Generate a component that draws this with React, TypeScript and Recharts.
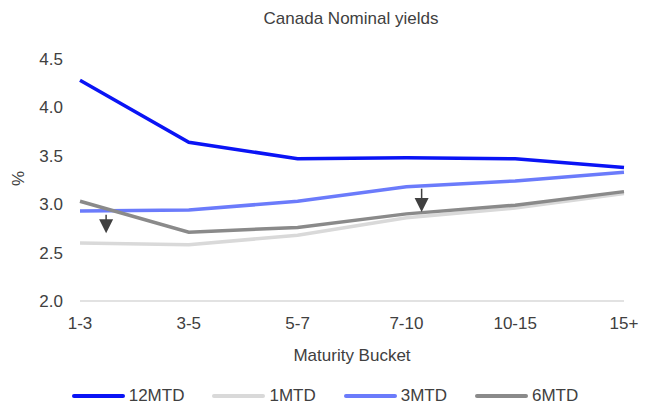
import React from "react";
import {
  LineChart,
  Line,
  XAxis,
  YAxis,
  Legend,
  ReferenceLine,
  ReferenceDot,
} from "recharts";

const buckets = ["1-3", "3-5", "5-7", "7-10", "10-15", "15+"];
const yTicks = [2.0, 2.5, 3.0, 3.5, 4.0, 4.5];

const mtd12 = [4.28, 3.64, 3.47, 3.48, 3.47, 3.38];
const mtd1 = [2.6, 2.58, 2.68, 2.86, 2.96, 3.11];
const mtd3 = [2.93, 2.94, 3.03, 3.18, 3.24, 3.33];
const mtd6 = [3.03, 2.71, 2.76, 2.9, 2.99, 3.13];

// annotation arrows: [x position, from, to]
const arrows = [
  [0.24, 2.89, 2.7],
  [3.14, 3.16, 2.92],
];

const series = [
  { key: "m12", name: "12MTD", color: "#0A14F5" },
  { key: "m1", name: "1MTD", color: "#D9D9D9" },
  { key: "m3", name: "3MTD", color: "#6B7BFB" },
  { key: "m6", name: "6MTD", color: "#8A8A8A" },
];

const data = buckets.map((b, i) => ({
  x: i,
  m12: mtd12[i],
  m1: mtd1[i],
  m3: mtd3[i],
  m6: mtd6[i],
}));

const font = "'Liberation Sans', Arial, sans-serif";
const textColor = "#404040";

const ArrowHead = (props: any) => {
  const { cx, cy } = props;
  return (
    <path
      d={`M${cx},${cy} L${cx - 7},${cy - 14} L${cx + 7},${cy - 14} Z`}
      fill="#404040"
    />
  );
};

const LegendContent = () => (
  <div
    style={{
      display: "flex",
      justifyContent: "center",
      gap: 28,
      paddingLeft: 14,
      fontFamily: font,
      fontSize: 17,
      color: textColor,
    }}
  >
    {series.map((s) => (
      <div key={s.key} style={{ display: "flex", alignItems: "center" }}>
        <span
          style={{
            display: "inline-block",
            width: 53,
            height: 4,
            borderRadius: 2,
            background: s.color,
            marginRight: 4,
          }}
        />
        {s.name}
      </div>
    ))}
  </div>
);

export default function App() {
  return (
    <div
      style={{
        position: "absolute",
        left: 0,
        top: 0,
        width: 654,
        height: 410,
        background: "#fff",
        fontFamily: font,
      }}
    >
      <div
        style={{
          position: "absolute",
          top: 9,
          width: 654,
          textAlign: "center",
          paddingLeft: 48,
          boxSizing: "border-box",
          fontSize: 17,
          color: textColor,
        }}
      >
        Canada Nominal yields
      </div>
      <LineChart
        width={654}
        height={410}
        data={data}
        margin={{ top: 59, right: 30, bottom: 0, left: 12 }}
      >
        <XAxis
          dataKey="x"
          type="number"
          domain={[0, 5]}
          ticks={[0, 1, 2, 3, 4, 5]}
          tickFormatter={(v: number) => buckets[v]}
          axisLine={{ stroke: "#D9D9D9", strokeWidth: 1.5 }}
          tickLine={false}
          tickSize={0}
          tickMargin={16}
          height={85}
          tick={{ fontSize: 17, fill: textColor, fontFamily: font }}
          label={{
            value: "Maturity Bucket",
            position: "insideBottom",
            offset: 25,
            fontSize: 17,
            fill: textColor,
            fontFamily: font,
          }}
        />
        <YAxis
          domain={[2, 4.5]}
          ticks={yTicks}
          tickFormatter={(v: number) => v.toFixed(1)}
          axisLine={false}
          tickLine={false}
          tickSize={0}
          tickMargin={17}
          width={68}
          tick={{ fontSize: 17, fill: textColor, fontFamily: font }}
          label={{
            value: "%",
            angle: -90,
            position: "insideLeft",
            offset: 6,
            dy: 6,
            fontSize: 17,
            fill: textColor,
            fontFamily: font,
          }}
        />
        <Legend
          verticalAlign="bottom"
          height={24}
          content={<LegendContent />}
        />
        {series.map((s) => (
          <Line
            key={s.key}
            dataKey={s.key}
            name={s.name}
            stroke={s.color}
            strokeWidth={3.5}
            dot={false}
            activeDot={false}
            isAnimationActive={false}
          />
        ))}
        {arrows.map(([x, from, to], i) => (
          <ReferenceLine
            key={`l${i}`}
            segment={[
              { x, y: from },
              { x, y: to + 0.1 },
            ]}
            stroke="#404040"
            strokeWidth={1.5}
          />
        ))}
        {arrows.map(([x, , to], i) => (
          <ReferenceDot
            key={`d${i}`}
            x={x}
            y={to}
            r={7}
            shape={<ArrowHead />}
          />
        ))}
      </LineChart>
    </div>
  );
}
